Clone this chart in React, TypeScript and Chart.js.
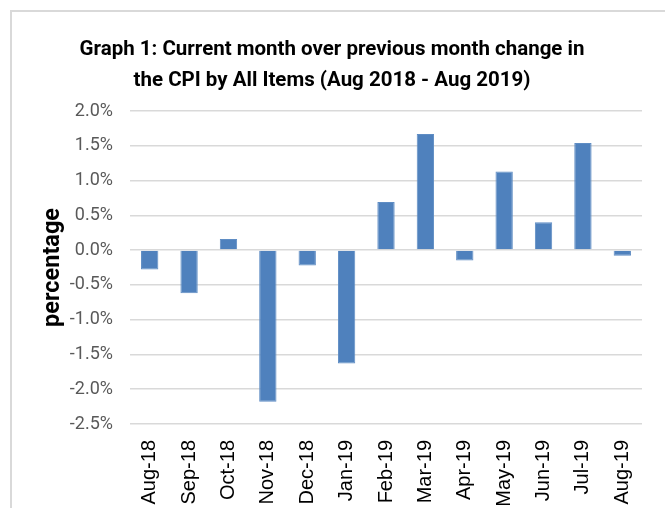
import React, { useEffect, useRef } from "react";
import { Chart, registerables } from "chart.js";

Chart.register(...registerables);

const categories = [
  "Aug-18", "Sep-18", "Oct-18", "Nov-18", "Dec-18", "Jan-19", "Feb-19",
  "Mar-19", "Apr-19", "May-19", "Jun-19", "Jul-19", "Aug-19",
];
const monthlyChange = [
  -0.28, -0.62, 0.16, -2.18, -0.22, -1.63, 0.69, 1.67, -0.15, 1.13, 0.4, 1.54, -0.08,
];
const titleLines = [
  "Graph 1: Current month over previous month change in",
  "the CPI by All Items (Aug 2018 - Aug 2019)",
];
const yAxisTitle = "percentage";
const yMin = -2.5;
const yMax = 2.0;
const yStep = 0.5;

const HUMANIST = "Roboto, 'Liberation Sans', sans-serif";

const framePlugin = {
  id: "frame",
  beforeDraw(chart: any) {
    const ctx = chart.ctx;
    ctx.save();
    ctx.fillStyle = "#ffffff";
    ctx.fillRect(0, 0, chart.width, chart.height);
    ctx.strokeStyle = "#D9D9D9";
    ctx.lineWidth = 2;
    ctx.strokeRect(11, 11, 800, 700);
    ctx.restore();
  },
};

export default function App() {
  const ref = useRef<HTMLCanvasElement | null>(null);
  useEffect(() => {
    document.body.style.margin = "0";
    const canvas = ref.current;
    if (!canvas) return;
    const chart = new Chart(canvas, {
      type: "bar",
      data: {
        labels: categories,
        datasets: [
          {
            data: monthlyChange,
            backgroundColor: "#4F81BD",
            borderColor: "#5F8DC4",
            borderWidth: 1,
            barPercentage: 0.44,
            categoryPercentage: 1,
          },
        ],
      },
      options: {
        responsive: false,
        animation: false,
        layout: { padding: { left: 22, right: 23, top: 0, bottom: 0 } },
        plugins: {
          legend: { display: false },
          tooltip: { enabled: false },
          title: {
            display: true,
            text: titleLines,
            color: "#000000",
            font: { family: HUMANIST, size: 20.5, weight: "bold", lineHeight: 31 / 20.5 },
            padding: { top: 34.5, bottom: 14.5 },
          },
        },
        scales: {
          x: {
            offset: true,
            grid: { display: false, drawTicks: false },
            border: { display: false },
            ticks: {
              minRotation: 90,
              maxRotation: 90,
              autoSkip: false,
              padding: 16,
              color: "#000000",
              font: { family: "'Liberation Sans', Arial, sans-serif", size: 20 },
            },
            afterFit(scale: any) {
              scale.height = 84;
            },
          },
          y: {
            min: yMin,
            max: yMax,
            grid: { color: "#D9D9D9", lineWidth: 1.5, drawTicks: false },
            border: { display: false },
            ticks: {
              stepSize: yStep,
              padding: 17,
              color: "#595959",
              font: { family: HUMANIST, size: 18 },
              callback: (v: any) => Number(v).toFixed(1) + "%",
            },
            title: {
              display: true,
              text: yAxisTitle,
              color: "#000000",
              font: { family: HUMANIST, size: 23.5, weight: "bold" },
              padding: { top: 16.9, bottom: 0 },
            },
            afterFit(scale: any) {
              scale.width = 108;
            },
          },
        },
      },
      plugins: [framePlugin],
    });
    return () => chart.destroy();
  }, []);
  return (
    <div style={{ width: 665, height: 508, position: "relative" }}>
      <canvas ref={ref} width={665} height={508} style={{ display: "block", width: 665, height: 508 }} />
    </div>
  );
}
